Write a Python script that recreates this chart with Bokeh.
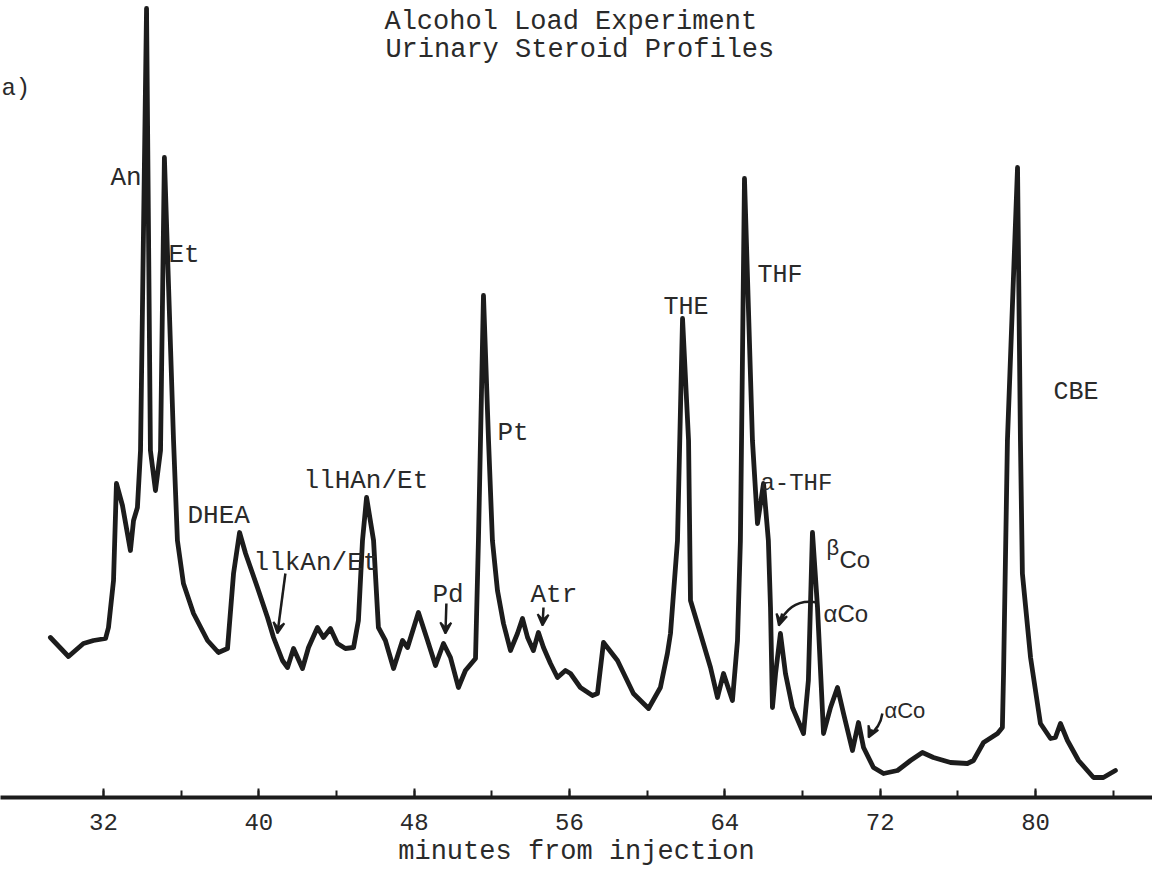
from bokeh.plotting import figure
from bokeh.models import Label, Arrow, VeeHead, FixedTicker, Range1d
from bokeh.embed import file_html
from bokeh.resources import INLINE

# chromatogram trace: retention time (minutes) and detector response (arbitrary units)
minutes = [29.27, 30.20, 30.97, 31.49, 32.11, 32.26, 32.52, 32.67, 32.98, 33.39,
           33.55, 33.75, 33.91, 34.22, 34.42, 34.68, 34.94, 35.14, 35.61, 35.81,
           36.12, 36.64, 37.36, 37.92, 38.39, 38.70, 39.01, 39.32, 39.68, 39.93,
           40.45, 40.76, 41.22, 41.48, 41.79, 42.25, 42.56, 43.02, 43.33, 43.69,
           44.05, 44.46, 44.88, 45.13, 45.34, 45.55, 45.91, 46.16, 46.52, 46.94,
           47.40, 47.66, 48.22, 48.69, 49.10, 49.51, 49.87, 50.28, 50.64, 51.16,
           51.31, 51.57, 51.83, 52.03, 52.29, 52.60, 52.96, 53.32, 53.58, 53.84,
           54.14, 54.40, 54.66, 55.02, 55.38, 55.79, 56.05, 56.56, 57.18, 57.44,
           57.75, 58.47, 59.29, 60.07, 60.68, 61.04, 61.20, 61.56, 61.82, 62.13,
           62.23, 62.74, 63.26, 63.62, 63.93, 64.39, 64.65, 64.80, 65.01, 65.42,
           65.68, 65.99, 66.24, 66.35, 66.45, 66.61, 66.86, 67.12, 67.48, 68.05,
           68.30, 68.51, 68.77, 69.08, 69.44, 69.80, 70.11, 70.57, 70.88, 71.14,
           71.65, 72.17, 72.89, 73.56, 74.17, 74.74, 75.62, 76.49, 76.80, 77.32,
           78.04, 78.29, 78.35, 78.55, 79.07, 79.22, 79.32, 79.74, 80.25, 80.77,
           81.02, 81.28, 81.64, 82.21, 82.98, 83.49, 84.11]
response = [160, 141, 154, 157, 159, 170, 217, 314, 292, 247,
            277, 290, 347, 789, 347, 307, 347, 640, 357, 257,
            214, 184, 157, 145, 149, 224, 265, 244, 224, 210,
            180, 160, 137, 130, 149, 129, 150, 170, 160, 169,
            154, 149, 150, 177, 257, 300, 257, 170, 157, 129,
            157, 150, 185, 157, 132, 154, 140, 110, 127, 139,
            257, 502, 357, 257, 207, 174, 147, 164, 179, 160,
            147, 165, 150, 134, 120, 127, 124, 110, 102, 104,
            155, 137, 104, 89, 110, 144, 164, 257, 479, 357,
            197, 164, 130, 100, 124, 97, 157, 257, 619, 357,
            274, 314, 257, 190, 90, 124, 164, 124, 90, 64,
            117, 265, 190, 64, 90, 110, 84, 47, 75, 50,
            30, 24, 27, 37, 45, 40, 35, 34, 37, 55,
            64, 70, 124, 357, 630, 357, 224, 140, 74, 59,
            60, 74, 57, 37, 20, 20, 27]

tick_values = [32, 40, 48, 56, 64, 72, 80]
minor_tick_values = [32, 36, 40, 44, 48, 52, 56, 60, 64, 68, 72, 76, 80, 84]

title_lines = ["Alcohol Load Experiment", "Urinary Steroid Profiles"]
x_label = "minutes from injection"

INK = "#1c1c1c"
TXT = "#2a2a2a"
MONO = "Liberation Mono"
SANS = "Liberation Sans"

p = figure(width=1152, height=874, output_backend="svg", toolbar_location=None,
           x_range=Range1d(26.70, 86.02), y_range=Range1d(0, 797),
           min_border_left=0, min_border_right=0, min_border_top=0, min_border_bottom=77,
           y_axis_location=None)
p.outline_line_color = None
p.grid.visible = False
p.background_fill_color = "white"
p.border_fill_color = "white"

p.line(minutes, response, line_width=4.8, line_color=INK, line_join="round", line_cap="round")

ax = p.xaxis[0]
ax.ticker = FixedTicker(ticks=tick_values, minor_ticks=minor_tick_values)
ax.axis_line_width = 4
ax.axis_line_color = INK
ax.major_tick_in = 9
ax.major_tick_out = 0
ax.minor_tick_in = 7
ax.minor_tick_out = 0
ax.major_tick_line_width = 2
ax.minor_tick_line_width = 2
ax.major_tick_line_color = INK
ax.minor_tick_line_color = INK
ax.major_label_text_font = MONO
ax.major_label_text_font_size = "24px"
ax.major_label_text_color = TXT
ax.major_label_standoff = 16
ax.axis_label = x_label
ax.axis_label_text_font = MONO
ax.axis_label_text_font_size = "27px"
ax.axis_label_text_font_style = "normal"
ax.axis_label_text_color = TXT
ax.axis_label_standoff = 4

def lab(x, y, text, size="26px", font=MONO):
    p.add_layout(Label(x=x, y=y, text=text, text_font=font, text_font_size=size,
                       text_color=TXT, text_baseline="alphabetic", text_align="left"))

lab(46.47, 776, title_lines[0], "27px")
lab(46.52, 748, title_lines[1], "27px")
lab(26.75, 709, "a)", "24px")

lab(32.36, 620, "An")
lab(35.35, 543, "Et")
lab(36.33, 282, "DHEA")
lab(42.30, 317, "llHAn/Et")
lab(39.73, 235, "llkAn/Et")
lab(48.94, 203, "Pd")
lab(52.29, 365, "Pt")
lab(53.99, 203, "Atr")
lab(60.84, 490, "THE", "25px")
lab(65.68, 522, "THF", "25px")
lab(65.83, 314, "a-THF", "24px")
lab(80.92, 405, "CBE", "25px")
lab(69.23, 250, "β", "22px", SANS)
lab(69.90, 238, "Co", "24px", SANS)
lab(69.08, 184, "αCo", "24px", SANS)
lab(72.22, 87, "αCo", "22px", SANS)

def arrow(x0, y0, x1, y1):
    p.add_layout(Arrow(x_start=x0, y_start=y0, x_end=x1, y_end=y1, line_width=2.5,
                       line_color=INK,
                       end=VeeHead(size=11, line_color=INK, fill_color=INK, line_width=2)))

arrow(41.37, 224, 40.96, 164)
arrow(49.66, 194, 49.61, 164)
arrow(54.66, 190, 54.61, 172)

# curved pointers
p.quadratic(x0=[68.77], y0=[195], x1=[66.80], y1=[174], cx=[67.4], cy=[200],
            line_width=2.5, line_color=INK)
arrow(66.95, 184, 66.78, 172)
p.quadratic(x0=[72.11], y0=[84], x1=[71.42], y1=[62], cx=[72.0], cy=[70],
            line_width=2.5, line_color=INK)
arrow(71.60, 68, 71.40, 60)

open("out.html", "w").write(file_html(p, INLINE))
